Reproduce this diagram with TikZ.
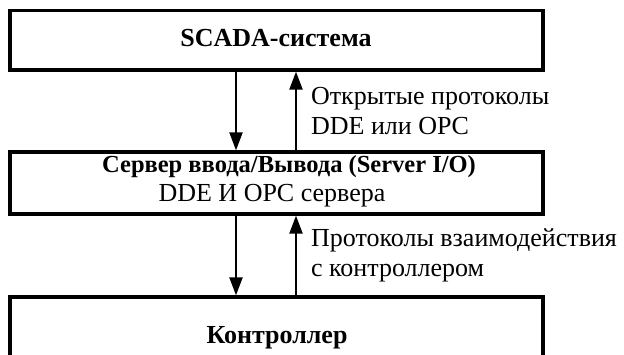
\documentclass[tikz,border=0pt]{standalone}
\usepackage{fontspec}
\setmainfont{Liberation Serif}
\usetikzlibrary{arrows.meta,positioning}
\tikzset{
  block/.style={draw,line width=3.3,minimum width=533,inner sep=0},
  title/.style={font=\fontsize{26}{30}\selectfont\bfseries,inner sep=0},
  plain/.style={font=\fontsize{26}{30}\selectfont,inner sep=0},
  flow/.style={line width=2.2,-{Triangle[length=18,width=13]}},
  note/.style={font=\fontsize{26}{29.5}\selectfont,align=left,inner sep=0}
}
\begin{document}
\begin{tikzpicture}[x=1pt,y=1pt,yscale=-1]
  \clip (0,0) rectangle (624,355);

  % Blocks
  \node[block,minimum height=59.5] (scada) at (276.5,40.25) {};
  \node[title,anchor=base] (scadatext) at (276,47) {SCADA-система};
  \node[block,minimum height=62] (server) at (276.5,183) {};
  \node[title,font=\fontsize{24.5}{28}\selectfont\bfseries,anchor=base] (servername) at (289,173) {Сервер ввода/Вывода (Server I/O)};
  \node[plain,anchor=base] (servertext) at (272,202) {DDE И OPC сервера};
  \node[block,minimum height=120] (ctrl) at (276.5,357) {};
  \node[title,anchor=base] (ctrltext) at (277,344) {Контроллер};

  % Connections
  \draw[flow] ([xshift=-40.5]scada.south) -- ([xshift=-40.5]server.north);
  \draw[flow] ([xshift=19.5]server.north) -- ([xshift=19.5]scada.south)
    node[midway,right=14,note] (proto1) {Открытые протоколы\\DDE или OPC};
  \draw[flow] ([xshift=-40.5]server.south) -- ([xshift=-40.5]ctrl.north);
  \draw[flow] ([xshift=19.5]ctrl.north) -- ([xshift=19.5]server.south)
    node[midway,right=14,note] (proto2) {Протоколы взаимодействия\\с контроллером};
\end{tikzpicture}
\end{document}
